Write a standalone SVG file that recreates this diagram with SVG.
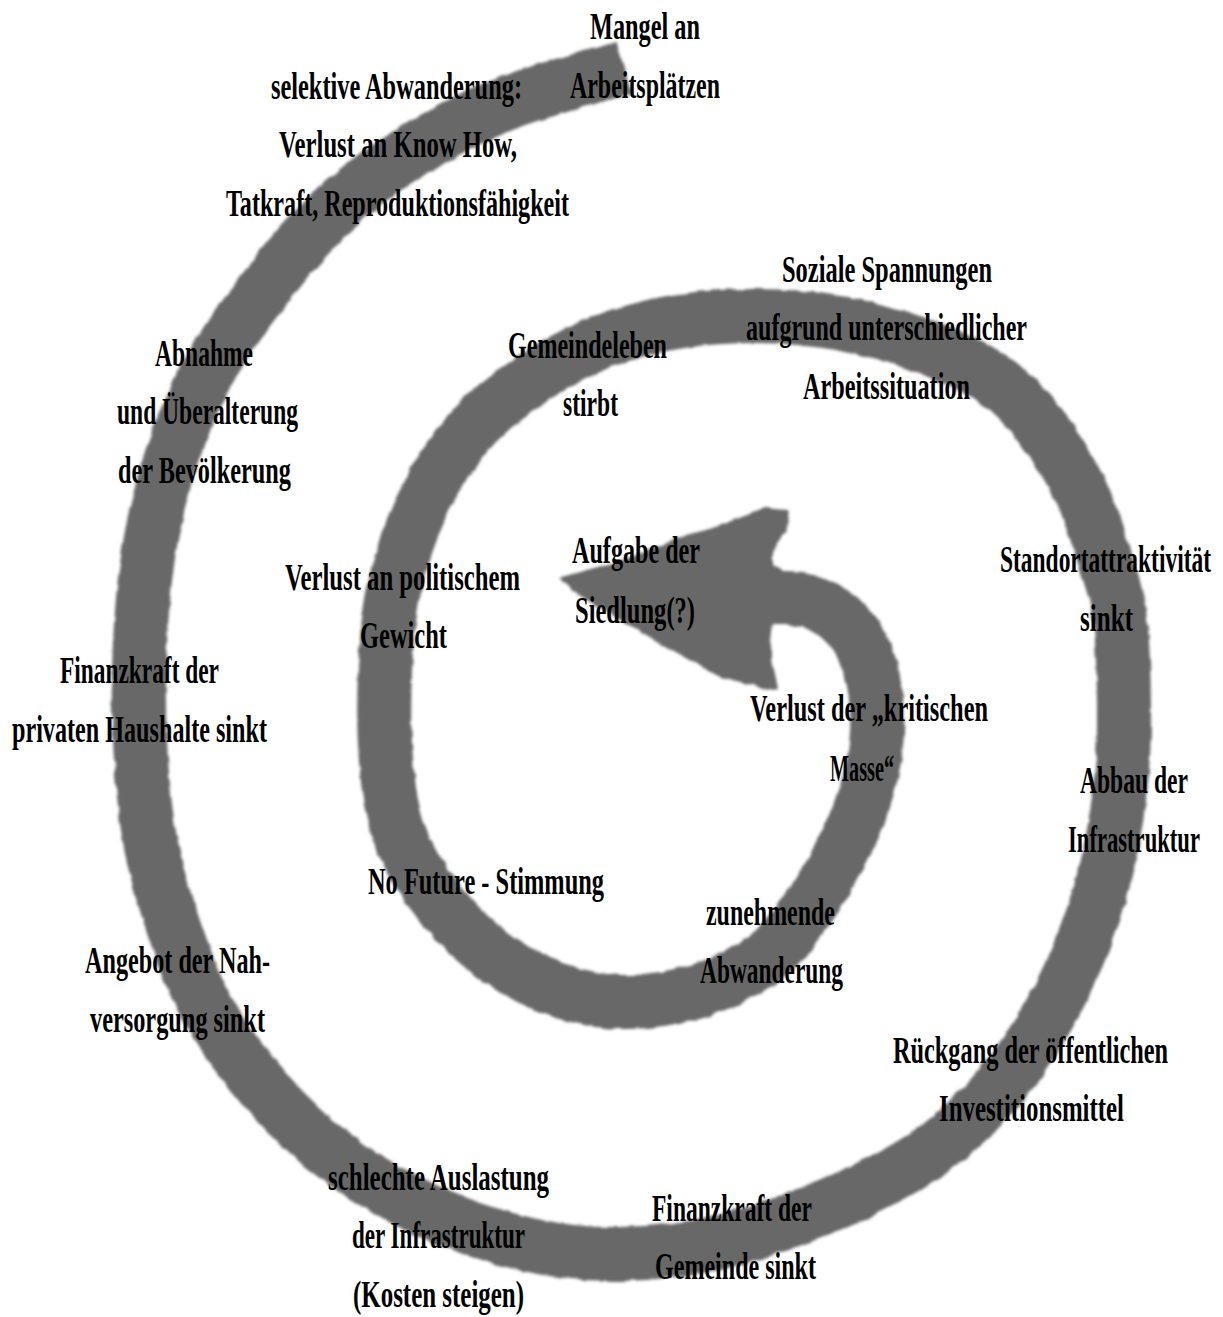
<svg xmlns="http://www.w3.org/2000/svg" width="1223" height="1317" viewBox="0 0 1223 1317">
<style>
.t{font-family:"Liberation Serif","Times New Roman",serif;font-size:37px;font-weight:bold;fill:#000}
.band{fill:none;stroke:#686868;stroke-width:54;stroke-linecap:butt;stroke-linejoin:round}
.head{fill:#686868}
</style>
<defs>
<filter id="rough" filterUnits="userSpaceOnUse" x="0" y="0" width="1223" height="1317">
<feTurbulence type="fractalNoise" baseFrequency="0.07" numOctaves="2" seed="3" result="n"/>
<feDisplacementMap in="SourceGraphic" in2="n" scale="5" xChannelSelector="R" yChannelSelector="G" result="d"/>
<feGaussianBlur in="d" stdDeviation="1.7"/>
</filter>
</defs>
<rect width="1223" height="1317" fill="#fff"/>
<g id="connectors" filter="url(#rough)">
<path class="band" d="M624,68 C613.3,71 580.7,79.7 560,86 C539.3,92.3 520,97.8 500,106 C480,114.2 458.3,125.2 440,135 C421.7,144.8 405.8,154.2 390,165 C374.2,175.8 360,186.7 345,200 C330,213.3 314.5,228.7 300,245 C285.5,261.3 271.7,279.7 258,298 C244.3,316.3 230.5,333.8 218,355 C205.5,376.2 193,400 183,425 C173,450 164.3,479.2 158,505 C151.7,530.8 148.2,552.5 145,580 C141.8,607.5 139.7,640 139,670 C138.3,700 139.2,731.7 141,760 C142.8,788.3 145.5,815 150,840 C154.5,865 158.8,882.5 168,910 C177.2,937.5 188.8,975 205,1005 C221.2,1035 242.5,1064.2 265,1090 C287.5,1115.8 312.5,1139.7 340,1160 C367.5,1180.3 398.3,1197.8 430,1212 C461.7,1226.2 498.3,1238 530,1245 C561.7,1252 588.3,1254.5 620,1254 C651.7,1253.5 685,1250.2 720,1242 C755,1233.8 795.8,1219.5 830,1205 C864.2,1190.5 898.3,1172.8 925,1155 C951.7,1137.2 970.8,1118.8 990,1098 C1009.2,1077.2 1025.3,1053.8 1040,1030 C1054.7,1006.2 1067.2,980.8 1078,955 C1088.8,929.2 1098,902.5 1105,875 C1112,847.5 1116.8,815.8 1120,790 C1123.2,764.2 1124,748.3 1124,720 C1124,691.7 1123.2,646.7 1120,620 C1116.8,593.3 1111.7,581.7 1105,560 C1098.3,538.3 1090.8,512.5 1080,490 C1069.2,467.5 1054.2,443.3 1040,425 C1025.8,406.7 1010,391.3 995,380 C980,368.7 969.2,365 950,357 C930.8,349 905,338.5 880,332 C855,325.5 826.7,320.5 800,318 C773.3,315.5 745,315.5 720,317 C695,318.5 671.7,322 650,327 C628.3,332 610,338.2 590,347 C570,355.8 549.2,367 530,380 C510.8,393 490.8,408.3 475,425 C459.2,441.7 446.2,460.8 435,480 C423.8,499.2 415.2,520 408,540 C400.8,560 395.8,578.3 392,600 C388.2,621.7 386,643.3 385,670 C384,696.7 383.8,733.3 386,760 C388.2,786.7 390.7,808.3 398,830 C405.3,851.7 416.3,870.8 430,890 C443.7,909.2 460.8,929.2 480,945 C499.2,960.8 521.7,975.5 545,985 C568.3,994.5 594.2,1001.2 620,1002 C645.8,1002.8 675.8,997.3 700,990 C724.2,982.7 746.7,972.2 765,958 C783.3,943.8 795.8,925.5 810,905 C824.2,884.5 839.7,857.5 850,835 C860.3,812.5 867.5,790.8 872,770 C876.5,749.2 878,729.2 877,710 C876,690.8 872.2,670.3 866,655 C859.8,639.7 850.2,627.2 840,618 C829.8,608.8 816.3,603.3 805,600 C793.7,596.7 777.5,598.3 772,598"/>
<path class="head" d="M558,578 L623,560 L687,535 L707,530 L750,514 L765,508 L787,510 L790,522 L780,540 L772,552 L772,565 L790,575 L790,620 L772,622 L770,640 L773,665 L778,690 L753,685 L720,677 L653,640 L587,600 Z"/>
</g>
<g id="n1"><text class="t" x="590" y="39" textLength="110" lengthAdjust="spacingAndGlyphs">Mangel an</text><text class="t" x="570" y="98" textLength="150" lengthAdjust="spacingAndGlyphs">Arbeitsplätzen</text></g>
<g id="n2"><text class="t" x="271" y="99" textLength="251" lengthAdjust="spacingAndGlyphs">selektive Abwanderung:</text><text class="t" x="279" y="157" textLength="238" lengthAdjust="spacingAndGlyphs">Verlust an Know How,</text><text class="t" x="226" y="216" textLength="343" lengthAdjust="spacingAndGlyphs">Tatkraft, Reproduktionsfähigkeit</text></g>
<g id="n3"><text class="t" x="782" y="282" textLength="210" lengthAdjust="spacingAndGlyphs">Soziale Spannungen</text><text class="t" x="746" y="340" textLength="281" lengthAdjust="spacingAndGlyphs">aufgrund unterschiedlicher</text><text class="t" x="803" y="399" textLength="167" lengthAdjust="spacingAndGlyphs">Arbeitssituation</text></g>
<g id="n4"><text class="t" x="508" y="358" textLength="159" lengthAdjust="spacingAndGlyphs">Gemeindeleben</text><text class="t" x="563" y="416" textLength="55" lengthAdjust="spacingAndGlyphs">stirbt</text></g>
<g id="n5"><text class="t" x="155" y="366" textLength="98" lengthAdjust="spacingAndGlyphs">Abnahme</text><text class="t" x="117" y="424" textLength="181" lengthAdjust="spacingAndGlyphs">und Überalterung</text><text class="t" x="118" y="483" textLength="173" lengthAdjust="spacingAndGlyphs">der Bevölkerung</text></g>
<g id="n6"><text class="t" x="572" y="563" textLength="128" lengthAdjust="spacingAndGlyphs">Aufgabe der</text><text class="t" x="575" y="623" textLength="120" lengthAdjust="spacingAndGlyphs">Siedlung(?)</text></g>
<g id="n7"><text class="t" x="285" y="590" textLength="235" lengthAdjust="spacingAndGlyphs">Verlust an politischem</text><text class="t" x="360" y="648" textLength="87" lengthAdjust="spacingAndGlyphs">Gewicht</text></g>
<g id="n8"><text class="t" x="1000" y="572" textLength="211" lengthAdjust="spacingAndGlyphs">Standortattraktivität</text><text class="t" x="1080" y="631" textLength="53" lengthAdjust="spacingAndGlyphs">sinkt</text></g>
<g id="n9"><text class="t" x="60" y="683" textLength="159" lengthAdjust="spacingAndGlyphs">Finanzkraft der</text><text class="t" x="12" y="742" textLength="255" lengthAdjust="spacingAndGlyphs">privaten Haushalte sinkt</text></g>
<g id="n10"><text class="t" x="750" y="721" textLength="238" lengthAdjust="spacingAndGlyphs">Verlust der „kritischen</text><text class="t" x="830" y="781" textLength="64" lengthAdjust="spacingAndGlyphs">Masse“</text></g>
<g id="n11"><text class="t" x="1080" y="793" textLength="108" lengthAdjust="spacingAndGlyphs">Abbau der</text><text class="t" x="1068" y="852" textLength="132" lengthAdjust="spacingAndGlyphs">Infrastruktur</text></g>
<g id="n12"><text class="t" x="368" y="894" textLength="236" lengthAdjust="spacingAndGlyphs">No Future - Stimmung</text></g>
<g id="n13"><text class="t" x="706" y="925" textLength="129" lengthAdjust="spacingAndGlyphs">zunehmende</text><text class="t" x="700" y="983" textLength="143" lengthAdjust="spacingAndGlyphs">Abwanderung</text></g>
<g id="n14"><text class="t" x="85" y="973" textLength="185" lengthAdjust="spacingAndGlyphs">Angebot der Nah-</text><text class="t" x="90" y="1032" textLength="175" lengthAdjust="spacingAndGlyphs">versorgung sinkt</text></g>
<g id="n15"><text class="t" x="893" y="1063" textLength="275" lengthAdjust="spacingAndGlyphs">Rückgang der öffentlichen</text><text class="t" x="939" y="1121" textLength="185" lengthAdjust="spacingAndGlyphs">Investitionsmittel</text></g>
<g id="n16"><text class="t" x="328" y="1190" textLength="221" lengthAdjust="spacingAndGlyphs">schlechte Auslastung</text><text class="t" x="352" y="1248" textLength="173" lengthAdjust="spacingAndGlyphs">der Infrastruktur</text><text class="t" x="353" y="1307" textLength="171" lengthAdjust="spacingAndGlyphs">(Kosten steigen)</text></g>
<g id="n17"><text class="t" x="652" y="1221" textLength="160" lengthAdjust="spacingAndGlyphs">Finanzkraft der</text><text class="t" x="655" y="1279" textLength="161" lengthAdjust="spacingAndGlyphs">Gemeinde sinkt</text></g>
</svg>
